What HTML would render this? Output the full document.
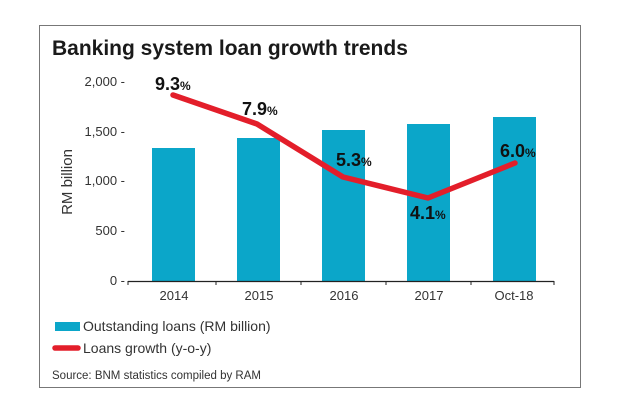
<!DOCTYPE html>
<html><head><style>
body{margin:0;background:#fff;width:620px;height:415px;overflow:hidden;font-family:"Liberation Sans",sans-serif}
</style></head><body>
<svg width="620" height="415" xmlns="http://www.w3.org/2000/svg" font-family="Liberation Sans, sans-serif">
<rect x="39.5" y="25.5" width="541" height="362" fill="#fff" stroke="#777" stroke-width="1"/>
<text x="52" y="55" font-size="21" font-weight="bold" fill="#1a1a1a">Banking system loan growth trends</text>
<g font-size="13" fill="#333" text-anchor="end">
<text x="125" y="86">2,000 -</text>
<text x="125" y="136">1,500 -</text>
<text x="125" y="185">1,000 -</text>
<text x="125" y="235">500 -</text>
<text x="125" y="285">0 -</text>
</g>
<text transform="translate(72,182) rotate(-90)" font-size="15" fill="#333" text-anchor="middle">RM billion</text>
<g fill="#0ba6c9">
<rect x="152" y="148" width="43" height="133"/>
<rect x="237" y="138" width="43" height="143"/>
<rect x="322" y="130" width="43" height="151"/>
<rect x="407" y="124" width="43" height="157"/>
<rect x="493" y="117" width="43" height="164"/>
</g>
<line x1="128" y1="281.5" x2="554" y2="281.5" stroke="#222" stroke-width="1.2"/>
<g stroke="#222"><line x1="128" y1="281" x2="128" y2="285"/><line x1="216" y1="281" x2="216" y2="285"/><line x1="301" y1="281" x2="301" y2="285"/><line x1="386" y1="281" x2="386" y2="285"/><line x1="471" y1="281" x2="471" y2="285"/><line x1="554" y1="281" x2="554" y2="285"/></g>
<g font-size="13" fill="#333" text-anchor="middle">
<text x="174" y="300">2014</text><text x="259" y="300">2015</text><text x="344" y="300">2016</text><text x="429" y="300">2017</text><text x="514" y="300">Oct-18</text>
</g>
<polyline points="173,95 257,124 343,177 428,198 515,163" fill="none" stroke="#e31e2a" stroke-width="5.5" stroke-linejoin="round" stroke-linecap="round"/>
<g font-size="18" font-weight="bold" fill="#111">
<text x="155" y="90">9.3<tspan font-size="12">%</tspan></text>
<text x="242" y="115">7.9<tspan font-size="12">%</tspan></text>
<text x="336" y="166">5.3<tspan font-size="12">%</tspan></text>
<text x="410" y="219">4.1<tspan font-size="12">%</tspan></text>
<text x="500" y="157">6.0<tspan font-size="12">%</tspan></text>
</g>
<rect x="55" y="322" width="25" height="9" fill="#0ba6c9"/>
<line x1="55" y1="348" x2="78" y2="348" stroke="#e31e2a" stroke-width="5.5" stroke-linecap="round"/>
<g font-size="14" fill="#333">
<text x="83" y="331">Outstanding loans (RM billion)</text>
<text x="83" y="353">Loans growth (y-o-y)</text>
</g>
<text x="52" y="379" font-size="11.5" fill="#333">Source: BNM statistics compiled by RAM</text>
</svg>
</body></html>
